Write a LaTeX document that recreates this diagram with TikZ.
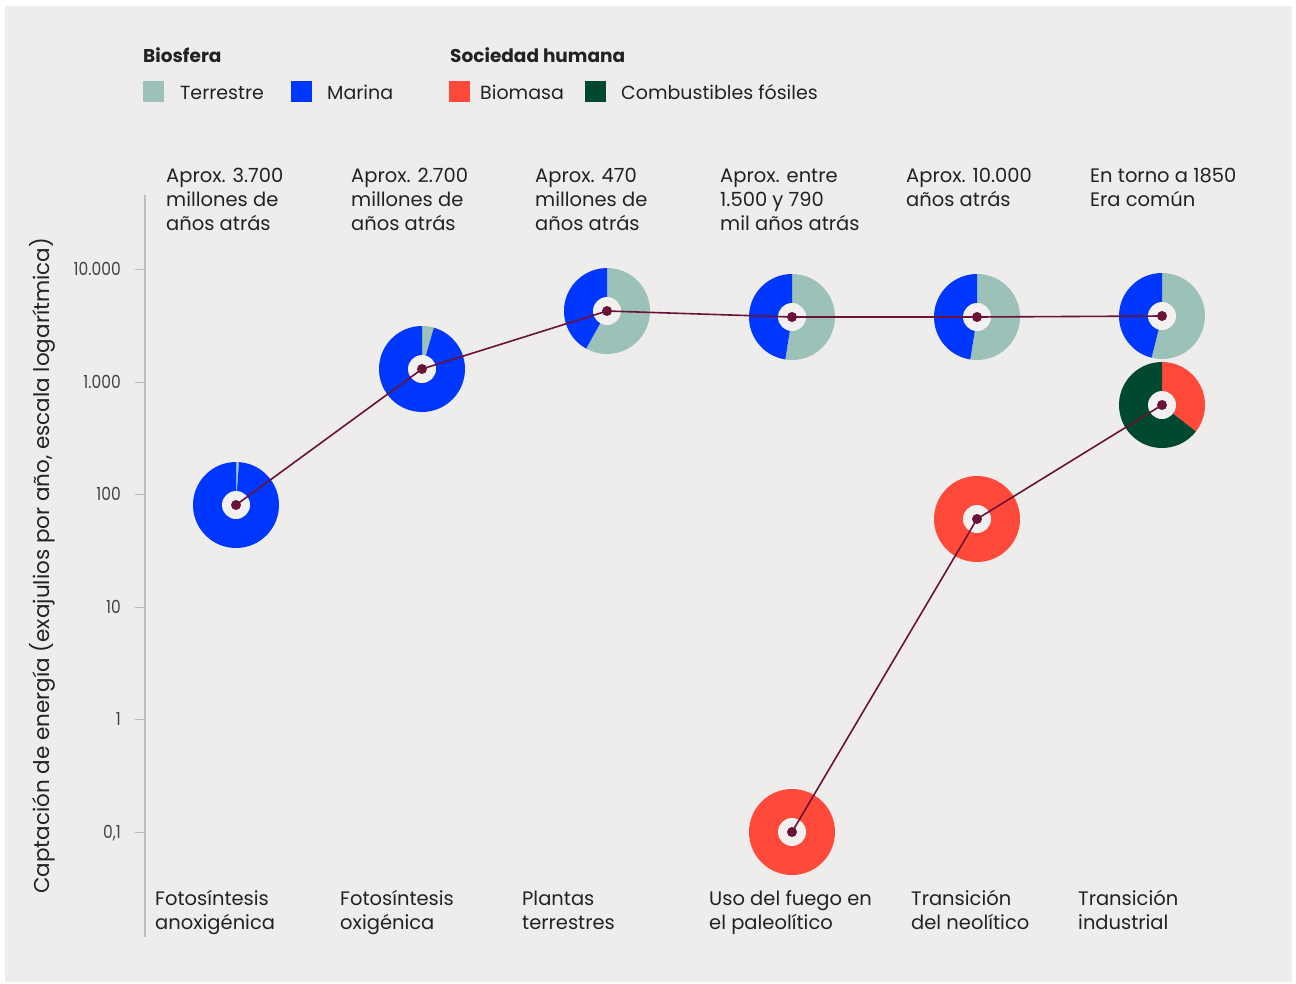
\documentclass[tikz,border=0pt]{standalone}
\usepackage{fontspec}
\setmainfont{Poppins}
\usepackage{graphicx}
\definecolor{bg}{HTML}{EFEDEB}
\definecolor{hole}{HTML}{F2F1EF}
\definecolor{terr}{HTML}{9BC1B9}
\definecolor{mar}{HTML}{0037FF}
\definecolor{bio}{HTML}{FF4A3B}
\definecolor{fos}{HTML}{00482F}
\definecolor{lin}{HTML}{6A1238}
\definecolor{txt}{HTML}{222222}
\definecolor{axc}{HTML}{BDBDBD}
\tikzset{
  lbl/.style={anchor=base west, align=left, inner sep=0pt, text=txt, font=\fontsize{19.5}{24}\selectfont},
  leghead/.style={anchor=base west, inner sep=0pt, text=txt, font=\fontsize{18.5}{24}\selectfont\bfseries},
  legtxt/.style={anchor=base west, inner sep=0pt, text=txt, font=\fontsize{19}{24}\selectfont},
  swatch/.style={minimum width=21pt, minimum height=21pt, inner sep=0pt, anchor=north west},
  ticklbl/.style={anchor=base east, inner sep=0pt, text=txt!85, font=\fontsize{18}{20}\selectfont},
  tickmark/.style={draw=axc, line width=1pt},
  conn/.style={draw=lin, line width=1.6pt},
  dot/.style={circle, fill=lin, inner sep=0pt, minimum size=10pt},
}
\newcommand{\wedgeat}[4]{% center, start, end, color
  \fill[#4] (#1) -- ++(#2:43pt) arc[start angle=#2, end angle=#3, radius=43pt] -- cycle;}
\newcommand{\holeat}[1]{\fill[hole] (#1) circle[radius=14pt];}
\begin{document}
\begin{tikzpicture}[x=1pt,y=-1pt]
\useasboundingbox (0,0) rectangle (1296,983);
\fill[white] (0,0) rectangle (1296,983);
\fill[bg] (5,6) rectangle (1292,982);

% legend
\node[leghead] (hb) at (143,62) {Biosfera};
\node[swatch, fill=terr] (s1) at (143,81) {};
\node[legtxt] (t1) at (180,99) {Terrestre};
\node[swatch, fill=mar] (s2) at (291,81) {};
\node[legtxt] (t2) at (327,99) {Marina};
\node[leghead] (hs) at (450,62) {Sociedad humana};
\node[swatch, fill=bio] (s3) at (449,81) {};
\node[legtxt] (t3) at (480,99) {Biomasa};
\node[swatch, fill=fos] (s4) at (585,81) {};
\node[legtxt] (t4) at (621,99) {Combustibles fósiles};

% axis
\draw[draw=axc, line width=1.3pt] (145,195) -- (145,937);
\foreach \yy/\tt in {269/10.000, 382/1.000, 494/100, 607/10, 719/1, 832/{0,1}}{
  \draw[tickmark] (135,\yy) -- (145,\yy);
  \node[ticklbl] at (121,\yy+6) {\scalebox{0.86}[1]{\tt}};
}
\node[rotate=90, inner sep=0pt, text=txt, font=\fontsize{21.5}{24}\selectfont] (ytitle) at (42,566) {Captación de energía (exajulios por año, escala logarítmica)};

% top labels (anchored at last line baseline)
\node[lbl] (a1) at (166,230) {Aprox. 3.700\\millones de\\años atrás};
\node[lbl] (a2) at (351,230) {Aprox. 2.700\\millones de\\años atrás};
\node[lbl] (a3) at (535,230) {Aprox. 470\\millones de\\años atrás};
\node[lbl] (a4) at (720,230) {Aprox. entre\\1.500 y 790\\mil años atrás};
\node[lbl] (a5) at (906,206) {Aprox. 10.000\\años atrás};
\node[lbl] (a6) at (1090,206) {En torno a 1850\\Era común};

% bottom labels
\node[lbl] (b1) at (155,929) {Fotosíntesis\\anoxigénica};
\node[lbl] (b2) at (340,929) {Fotosíntesis\\oxigénica};
\node[lbl] (b3) at (522,929) {Plantas\\terrestres};
\node[lbl] (b4) at (709,929) {Uso del fuego en\\el paleolítico};
\node[lbl] (b5) at (911,929) {Transición\\del neolítico};
\node[lbl] (b6) at (1078,929) {Transición\\industrial};

% centres
\coordinate (p1) at (236,505);
\coordinate (p2) at (422,369);
\coordinate (p3) at (607,311);
\coordinate (p4) at (792,317);
\coordinate (p5) at (977,317);
\coordinate (p6) at (1162,316);
\coordinate (h1) at (792,832);
\coordinate (h2) at (977,519);
\coordinate (h3) at (1162,405);

% biosphere donuts
\wedgeat{p1}{90}{86}{terr}\wedgeat{p1}{86}{-270}{mar}
\wedgeat{p2}{90}{74}{terr}\wedgeat{p2}{74}{-270}{mar}
\wedgeat{p3}{90}{-119}{terr}\wedgeat{p3}{-119}{-270}{mar}
\wedgeat{p4}{90}{-99}{terr}\wedgeat{p4}{-99}{-270}{mar}
\wedgeat{p5}{90}{-99}{terr}\wedgeat{p5}{-99}{-270}{mar}
\wedgeat{p6}{90}{-104}{terr}\wedgeat{p6}{-104}{-270}{mar}
% human donuts
\fill[bio] (h1) circle[radius=43pt];
\fill[bio] (h2) circle[radius=43pt];
\wedgeat{h3}{90}{-38}{bio}\wedgeat{h3}{-38}{-270}{fos}
\foreach \c in {p1,p2,p3,p4,p5,p6,h1,h2,h3}{\holeat{\c}}

% connectors
\draw[conn] (p1) -- (p2) -- (p3) -- (p4) -- (p5) -- (p6);
\draw[conn] (h1) -- (h2) -- (h3);
\foreach \c in {p1,p2,p3,p4,p5,p6,h1,h2,h3}{\node[dot] (d\c) at (\c) {};}
\end{tikzpicture}
\end{document}
